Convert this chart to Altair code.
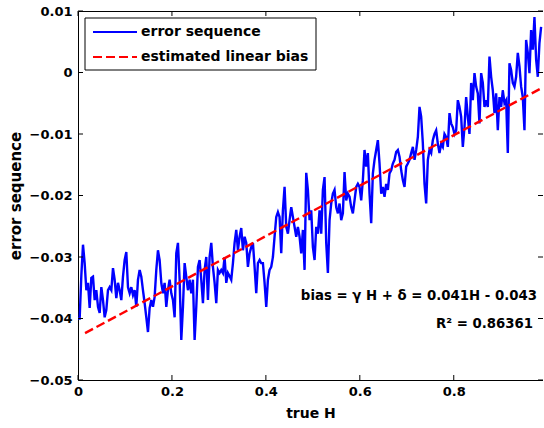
import altair as alt
import pandas as pd

# error sequence, read left to right (uniform step in true H)
err_seg1 = [-0.0400, -0.0400, -0.0330, -0.0280, -0.0310, -0.0354, -0.0342, -0.0383, -0.0334, -0.0332,
            -0.0370, -0.0354, -0.0381, -0.0391, -0.0349, -0.0370, -0.0398, -0.0386, -0.0354, -0.0349,
            -0.0354, -0.0318, -0.0337, -0.0367, -0.0342, -0.0354, -0.0370, -0.0332, -0.0305, -0.0292,
            -0.0349, -0.0359, -0.0349, -0.0362, -0.0354, -0.0381, -0.0337, -0.0321, -0.0332, -0.0354,
            -0.0375, -0.0398, -0.0422, -0.0383, -0.0370, -0.0381, -0.0365, -0.0321, -0.0289, -0.0305,
            -0.0342, -0.0359, -0.0342, -0.0381, -0.0354, -0.0337, -0.0359, -0.0370, -0.0398, -0.0294,
            -0.0277, -0.0337, -0.0435, -0.0381, -0.0310, -0.0332, -0.0354, -0.0337, -0.0359, -0.0337]
err_seg2 = [-0.0435, -0.0381, -0.0316, -0.0305, -0.0337, -0.0375, -0.0321, -0.0300, -0.0370, -0.0300,
            -0.0277, -0.0316, -0.0342, -0.0375, -0.0321, -0.0326, -0.0321, -0.0326, -0.0300, -0.0342,
            -0.0326, -0.0331, -0.0337, -0.0310, -0.0277, -0.0256, -0.0289, -0.0267, -0.0253, -0.0289,
            -0.0267, -0.0277, -0.0316, -0.0294, -0.0284, -0.0277, -0.0316, -0.0359, -0.0310, -0.0305,
            -0.0310, -0.0310, -0.0342, -0.0381, -0.0337, -0.0321, -0.0316, -0.0300, -0.0267, -0.0235,
            -0.0227, -0.0235, -0.0294, -0.0224, -0.0186, -0.0251, -0.0262, -0.0240, -0.0219, -0.0235,
            -0.0251, -0.0267, -0.0251, -0.0267, -0.0294, -0.0256, -0.0321, -0.0163, -0.0191, -0.0240]
err_seg3 = [-0.0224, -0.0284, -0.0305, -0.0251, -0.0262, -0.0224, -0.0262, -0.0191, -0.0170, -0.0277,
            -0.0326, -0.0240, -0.0213, -0.0197, -0.0191, -0.0219, -0.0229, -0.0213, -0.0240, -0.0229,
            -0.0162, -0.0208, -0.0197, -0.0202, -0.0219, -0.0229, -0.0208, -0.0186, -0.0181, -0.0186,
            -0.0208, -0.0175, -0.0126, -0.0153, -0.0131, -0.0197, -0.0245, -0.0164, -0.0142, -0.0126,
            -0.0110, -0.0148, -0.0197, -0.0186, -0.0202, -0.0181, -0.0191, -0.0164, -0.0159, -0.0148,
            -0.0142, -0.0129, -0.0126, -0.0137, -0.0159, -0.0175, -0.0186, -0.0153, -0.0148, -0.0142,
            -0.0131, -0.0121, -0.0142, -0.0126, -0.0105, -0.0056, -0.0072, -0.0115, -0.0181, -0.0213]
err_seg4 = [-0.0142, -0.0126, -0.0131, -0.0110, -0.0100, -0.0094, -0.0116, -0.0131, -0.0116, -0.0121,
            -0.0100, -0.0105, -0.0121, -0.0066, -0.0083, -0.0089, -0.0100, -0.0094, -0.0045, -0.0056,
            -0.0072, -0.0121, -0.0089, -0.0040, -0.0072, -0.0100, -0.0017, -0.0045, -0.0001, -0.0023,
            -0.0034, -0.0083, -0.0001, -0.0017, -0.0056, -0.0045, -0.0056, 0.0026, -0.0007, -0.0029,
            -0.0066, -0.0034, -0.0094, -0.0040, -0.0056, -0.0029, -0.0050, -0.0045, -0.0131, 0.0015,
            0.0004, -0.0017, -0.0023, -0.0007, 0.0032, 0.0010, -0.0023, -0.0040, -0.0094, 0.0053,
            0.0032, -0.0001, 0.0069, 0.0037, 0.0090, 0.0021, -0.0007, 0.0048, 0.0074]
error_seq = err_seg1 + err_seg2 + err_seg3 + err_seg4
H_START, H_END = 0.0, 0.986
n = len(error_seq)
true_H = [H_START + (H_END - H_START) * i / (n - 1) for i in range(n)]

# estimated linear bias
gamma, delta = 0.041, -0.043
fit_H = [0.015, 0.986]
fit_vals = [gamma * h + delta for h in fit_H]
r_squared = 0.86361

series_names = ["error sequence", "estimated linear bias"]
series_colors = ["#0000ff", "#ff0000"]
series_dash = [[1, 0], [9, 4]]
x_ticks = [0, 0.2, 0.4, 0.6, 0.8]
y_ticks = [-0.05, -0.04, -0.03, -0.02, -0.01, 0, 0.01]

df = pd.concat([
    pd.DataFrame({"H": true_H, "v": error_seq, "s": series_names[0]}),
    pd.DataFrame({"H": fit_H, "v": fit_vals, "s": series_names[1]}),
])

W, Hh = 465, 369
FONT = "DejaVu Sans"
xs = alt.Scale(domain=[0, 0.99], nice=False, zero=False)
ys = alt.Scale(domain=[-0.05, 0.01], nice=False, zero=False)

lines = alt.Chart(df).mark_line(strokeWidth=2.4).encode(
    x=alt.X("H:Q", scale=xs, title="true H",
            axis=alt.Axis(values=x_ticks, tickSize=0, labelPadding=5, titlePadding=8,
                          format="~g", domain=False, grid=False, labelFlush=False,
                          titleFontSize=14)),
    y=alt.Y("v:Q", scale=ys, title="error sequence",
            axis=alt.Axis(values=y_ticks, tickSize=0, labelPadding=6, titlePadding=6,
                          format="~g", domain=False, grid=False, labelFlush=False,
                          titleFontSize=15)),
    color=alt.Color("s:N", scale=alt.Scale(domain=series_names, range=series_colors), legend=None),
    strokeDash=alt.StrokeDash("s:N", scale=alt.Scale(domain=series_names, range=series_dash), legend=None),
    order="H:Q",
)

xt = pd.DataFrame({"t": x_ticks})
yt = pd.DataFrame({"t": y_ticks})
tick_b = alt.Chart(xt).mark_rule(color="black").encode(x=alt.X("t:Q", scale=xs), y=alt.value(Hh), y2=alt.value(Hh - 5))
tick_t = alt.Chart(xt).mark_rule(color="black").encode(x=alt.X("t:Q", scale=xs), y=alt.value(0), y2=alt.value(5))
tick_l = alt.Chart(yt).mark_rule(color="black").encode(y=alt.Y("t:Q", scale=ys), x=alt.value(0), x2=alt.value(5))
tick_r = alt.Chart(yt).mark_rule(color="black").encode(y=alt.Y("t:Q", scale=ys), x=alt.value(W), x2=alt.value(W - 5))

# legend box (drawn manually, MATLAB style)
leg_df = pd.DataFrame({"s": series_names})
leg_box = alt.Chart(leg_df.head(1)).mark_rect(fill="white", stroke="black", strokeWidth=1).encode(
    x=alt.value(7), x2=alt.value(238), y=alt.value(7), y2=alt.value(59))
leg_items = []
for i, (name, col, dash) in enumerate(zip(series_names, series_colors, series_dash)):
    yy = 21 + 25 * i
    row = leg_df[leg_df.s == name]
    leg_items.append(alt.Chart(row).mark_rule(color=col, strokeWidth=2, strokeDash=dash).encode(
        x=alt.value(15), x2=alt.value(59), y=alt.value(yy)))
    leg_items.append(alt.Chart(row).mark_text(align="left", baseline="middle", font=FONT, fontSize=14,
                                              fontWeight="bold", color="black").encode(
        text="s:N", x=alt.value(63), y=alt.value(yy)))

ann = pd.DataFrame({"label": [f"bias = \u03b3 H + \u03b4 = {gamma}H - {abs(delta)}"]})
ann2 = pd.DataFrame({"label": [f"R\u00b2 = {r_squared}"]})
t1 = alt.Chart(ann).mark_text(align="right", baseline="alphabetic", font=FONT, fontSize=13.3,
                              fontWeight="bold").encode(text="label:N", x=alt.value(459), y=alt.value(289))
t2 = alt.Chart(ann2).mark_text(align="right", baseline="alphabetic", font=FONT, fontSize=13.3,
                               fontWeight="bold").encode(text="label:N", x=alt.value(455), y=alt.value(317))

chart = alt.layer(lines, tick_b, tick_t, tick_l, tick_r, t1, t2, leg_box, *leg_items).properties(
    width=W, height=Hh,
    background="white",
    autosize=alt.AutoSizeParams(type="none"),
    padding={"left": 78, "top": 11, "right": 0, "bottom": 48},
).configure_view(stroke="black", strokeWidth=1).configure_axis(
    labelFont=FONT, titleFont=FONT, labelFontSize=13, titleFontSize=14,
    labelFontWeight="bold", titleFontWeight="bold", labelColor="black", titleColor="black",
)

chart.save("out.html", embed_options={"renderer": "svg", "actions": False})
